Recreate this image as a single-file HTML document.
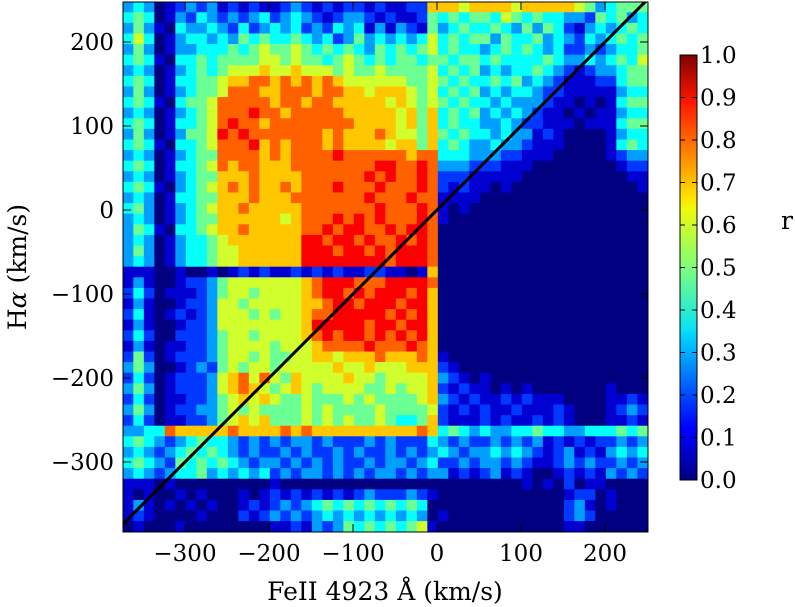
<!DOCTYPE html>
<html><head><meta charset="utf-8"><style>
html,body{margin:0;padding:0;background:#fff;}
svg{display:block;font-family:"DejaVu Serif","Liberation Serif",serif;}
</style></head><body>
<svg id="chart" width="795" height="607" viewBox="0 0 795 607">
<defs>
<clipPath id="plotclip"><rect x="123" y="2" width="525" height="530"/></clipPath>
<linearGradient id="jet" x1="0" y1="1" x2="0" y2="0">
<stop offset="0" stop-color="#00007f"/><stop offset="0.11" stop-color="#0000ff"/>
<stop offset="0.125" stop-color="#0000ff"/><stop offset="0.34" stop-color="#00d4ff"/>
<stop offset="0.36" stop-color="#0de5f0"/><stop offset="0.5" stop-color="#7dff7a"/>
<stop offset="0.64" stop-color="#f0f90a"/><stop offset="0.66" stop-color="#ffe600"/>
<stop offset="0.89" stop-color="#ff1700"/><stop offset="1" stop-color="#7f0000"/>
</linearGradient>
</defs>
<g id="heat" clip-path="url(#plotclip)"></g>
<g id="axes"></g>
</svg>
<script>
// grid: 50 columns from x=-374 (12.5 km/s each), 50 rows from y=248 downward (12.62 km/s each)
const gridX0=-374, gridDX=12.5, gridY0=248, gridDY=12.62;
const gridRows=[
"343 01 2 3231 2121 1232 1212 2121 1227 7767 7776 7777 7653 4555",
"454 01 3 2432 3234 2343 2123 3212 1125 4545 5465 4544 3325 4534",
"353 10 4 3343 2423 4342 3243 4131 3215 3454 4543 5354 2134 3454",
"464 01 3 4434 3545 4454 3423 5343 4346 4545 5354 4534 3243 4545",
"353 01 3 3444 5456 5565 4545 4354 5456 4544 3454 5434 2232 3445",
"454 10 4 4545 5556 6565 5456 5454 5545 5455 4544 4454 3343 4546",
"343 01 3 4545 6667 6676 6656 5565 5556 4545 3434 4543 2123 3455",
"454 01 4 4556 7788 7878 7876 6666 6556 5454 4545 3432 1112 2455",
"353 01 3 4556 8887 7888 7887 7677 7656 4545 3434 4322 1111 1344",
"454 10 4 5568 8888 7887 8877 7776 7656 5454 4343 3321 1010 1455",
"343 01 3 4568 8898 8788 8887 7777 6757 4545 3434 3211 0101 1344",
"454 01 4 4568 9887 8888 8888 7777 6757 4544 3343 2211 1011 1455",
"353 01 3 5569 8988 8888 8787 7787 6657 5454 4343 3121 0000 1344",
"454 10 4 4568 8897 8788 8787 7776 7757 4543 3433 2111 0000 1454",
"343 01 3 4558 8887 8788 8898 8888 8788 4443 3322 1110 0000 1233",
"454 01 4 4568 7887 7788 8888 8899 8898 3332 2211 1000 0000 0122",
"343 01 3 4557 7787 7778 8888 8989 8898 2221 1111 0000 0000 0011",
"454 10 3 4567 8787 7878 8898 8898 8898 2121 1010 0000 0000 0001",
"343 01 4 4557 7787 7788 8888 8988 8988 1111 0000 0000 0000 0000",
"453 01 3 4567 7877 7778 8888 8898 8898 1010 0000 0000 0000 0000",
"343 01 3 4557 7777 7678 8898 9898 8898 1000 0000 0000 0000 0000",
"354 10 4 4567 7877 7778 8989 9889 8998 0000 0000 0000 0000 0000",
"343 01 3 4456 7777 7779 9899 8988 9898 0000 0000 0000 0000 0000",
"353 01 3 4456 6777 7779 9989 9898 9998 0000 0000 0000 0000 0000",
"343 01 3 4456 6777 7779 9999 9998 9998 0000 0000 0000 0000 0000",
"111 00 1 0010 1212 1121 2121 1221 1017 0000 0000 0000 0000 0000",
"131 00 1 2235 6666 6667 8999 8889 9998 0000 0000 0000 0000 0000",
"242 01 1 1235 6656 6667 8998 9899 9897 0000 0000 0000 0000 0000",
"131 00 1 2236 6566 6667 7899 8999 8997 0000 0000 0000 0000 0000",
"241 01 2 1236 6656 5667 8899 9998 9897 0000 0000 0000 0000 0000",
"131 00 1 2236 6666 6667 9999 9899 8997 0000 0000 0000 0000 0000",
"242 00 2 2235 6656 6667 8989 9898 9897 0000 0000 0000 0000 0000",
"131 01 1 2235 6666 5666 7888 8988 8987 0000 0000 0000 0000 0000",
"252 01 2 2235 6656 5566 7767 7787 7787 1000 0000 0000 0000 0000",
"353 00 1 2325 6566 5666 6676 6766 6777 2100 0000 0000 0000 0000",
"242 01 2 2236 7868 6576 6667 6656 6667 3210 1000 0000 0000 0000",
"353 01 2 2236 7876 5676 5666 6556 5667 2121 1010 1000 0000 1000",
"242 01 1 2235 6767 6556 5556 5655 5567 3212 1121 2111 0000 1121",
"353 01 2 2335 6565 5556 5655 5565 5556 2121 2112 1112 1000 1232",
"242 01 1 2235 6767 5556 5656 5565 4457 2111 2121 1212 1000 1121",
"334 48 7 7777 8777 7878 7777 7777 7787 4543 4334 4544 3344 4545",
"454 32 3 4544 3232 3233 2322 2323 2224 3232 2323 2312 1212 2323",
"343 23 4 5454 3232 2323 2232 3223 2323 4323 3434 3212 3121 3434",
"454 32 5 4545 4323 3232 3232 2323 3234 2232 3323 2112 3232 2323",
"343 23 4 4534 3434 2323 3232 3233 2323 3121 2312 1001 2121 3232",
"111 01 0 0000 0000 1000 0000 0000 0000 0000 0000 1010 2011 0000",
"101 00 1 0100 0101 2121 2121 2322 2321 0000 0000 0000 1220 1000",
"131 01 0 1010 0121 2323 4545 4545 4540 0000 0000 0000 2310 1000",
"121 00 0 0100 0212 3232 3434 3434 3430 1000 0000 0000 2320 0000",
"010 00 1 0000 0000 1121 3235 4545 4561 0000 0000 0000 1100 0000"
];
const xTicks=[-300,-200,-100,0,100,200];
const yTicks=[200,100,0,-100,-200,-300];
const cbTicks=[0,0.1,0.2,0.3,0.4,0.5,0.6,0.7,0.8,0.9,1.0];

const NS="http://www.w3.org/2000/svg";
const X=v=>437+v*0.84, Y=v=>210-v*0.84;
function jet(r){
  const f=(a)=>Math.max(0,Math.min(1,a));
  const R=f(1.5-Math.abs(4*r-3)), G=f(1.5-Math.abs(4*r-2)), B=f(1.5-Math.abs(4*r-1));
  return `rgb(${Math.round(R*255)},${Math.round(G*255)},${Math.round(B*255)})`;
}
const heat=document.getElementById('heat');
const ax=document.getElementById('axes');
function mk(t,a,p){const e=document.createElementNS(NS,t);for(const k in a)e.setAttribute(k,a[k]);(p||heat).appendChild(e);return e;}
gridRows.forEach((row,ri)=>{
  const s=row.replace(/ /g,'');
  for(let ci=0;ci<s.length;ci++){
    const d=+s[ci];
    const r=d===0?0:d/10-0.02;
    const xa=gridX0+ci*gridDX, ya=gridY0-ri*gridDY;
    const x0=X(xa), x1=X(xa+gridDX), y0=Y(ya), y1=Y(ya-gridDY);
    const c=mk('rect',{x:x0.toFixed(2),y:y0.toFixed(2),width:(x1-x0+0.6).toFixed(2),height:(y1-y0+0.6).toFixed(2),fill:jet(r)});
    
    
  }
});
const dl=mk('line',{x1:X(-400),y1:Y(-400),x2:X(260),y2:Y(260),stroke:'#000','stroke-width':3});


const fr=mk('rect',{x:123,y:2,width:525,height:530,fill:'none',stroke:'#000','stroke-width':1},ax);


xTicks.forEach(v=>{
  mk('line',{x1:X(v),x2:X(v),y1:532,y2:524,stroke:'#000'},ax);
  mk('line',{x1:X(v),x2:X(v),y1:2,y2:10,stroke:'#000'},ax);
  const t=mk('text',{x:X(v),y:561,'font-size':23,'text-anchor':'middle'},ax);
  t.textContent=(v<0?'\u2212'+(-v):''+v);
  
  
});
yTicks.forEach(v=>{
  mk('line',{x1:123,x2:131,y1:Y(v),y2:Y(v),stroke:'#000'},ax);
  mk('line',{x1:648,x2:640,y1:Y(v),y2:Y(v),stroke:'#000'},ax);
  const t=mk('text',{x:114,y:Y(v)+8,'font-size':23,'text-anchor':'end'},ax);
  t.textContent=(v<0?'\u2212'+(-v):''+v);
  
  
});
const xl=mk('text',{x:385,y:600,'font-size':25,'text-anchor':'middle'},ax);
xl.textContent='FeII 4923 Å (km/s)';


const yl=mk('text',{x:0,y:0,'font-size':25,'text-anchor':'middle',transform:'translate(26,267) rotate(-90)'},ax);
yl.innerHTML='H<tspan font-style="italic">α</tspan> (km/s)';


const cb=mk('rect',{x:680,y:55,width:17,height:425,fill:'url(#jet)',stroke:'#000'},ax);


cbTicks.forEach(v=>{
  const y=480-v*425;
  mk('line',{x1:680,x2:685,y1:y,y2:y,stroke:'#000'},ax);
  mk('line',{x1:697,x2:692,y1:y,y2:y,stroke:'#000'},ax);
  const t=mk('text',{x:700,y:y+8,'font-size':23},ax);
  t.textContent=v.toFixed(1);
  
  
});
const rl=mk('text',{x:787,y:229,'font-size':25,'text-anchor':'middle'},ax);
rl.textContent='r';


</script>
</body></html>
